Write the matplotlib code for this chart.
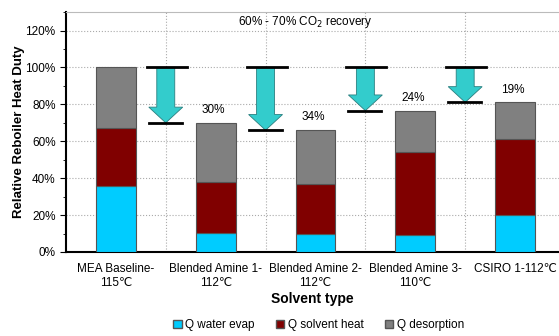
import numpy as np
import matplotlib
matplotlib.use('Agg')
import matplotlib.pyplot as plt
import matplotlib.patches as mpatches
from matplotlib.ticker import PercentFormatter, MultipleLocator

plt.rcParams['font.family'] = ['Liberation Sans', 'DejaVu Sans']

solvents = ['MEA Baseline-\n115℃', 'Blended Amine 1-\n112℃', 'Blended Amine 2-\n112℃',
            'Blended Amine 3-\n110℃', 'CSIRO 1-112℃']
q_water = [0.355, 0.103, 0.100, 0.093, 0.203]
q_solvent = [0.315, 0.277, 0.270, 0.450, 0.411]
q_desorption = [0.330, 0.320, 0.293, 0.223, 0.197]
reduction_labels = ['', '30%', '34%', '24%', '19%']
# arrows sit between the bars, from 100% down to the next solvent's total
arrow_x = [0.5, 1.5, 2.5, 3.5]
arrow_low = [0.70, 0.66, 0.766, 0.811]

c_water = '#00CCFF'
c_solvent = '#800000'
c_desorp = '#808080'

fig = plt.figure(figsize=(5.59, 3.36), dpi=100)
ax = fig.add_axes([0.118, 0.25, 0.882, 0.714])

x = np.arange(len(solvents))
w = 0.4
water = np.array(q_water)
solvent = np.array(q_solvent)
desorp = np.array(q_desorption)
total = water + solvent + desorp

ax.bar(x, water, w, color=c_water, edgecolor='#555555', linewidth=0.8, zorder=3)
ax.bar(x, solvent, w, bottom=water, color=c_solvent, edgecolor='#555555', linewidth=0.8, zorder=3)
ax.bar(x, desorp, w, bottom=water + solvent, color=c_desorp, edgecolor='#555555', linewidth=0.8, zorder=3)

for i, lab in enumerate(reduction_labels):
    if lab:
        ax.text(x[i] - 0.02, total[i] + 0.035, lab, ha='center', va='bottom', fontsize=8.5)

for xa, low in zip(arrow_x, arrow_low):
    arr = mpatches.FancyArrow(xa, 1.0, 0, -(1.0 - low), width=0.18, head_width=0.34,
                              head_length=0.085, length_includes_head=True,
                              facecolor='#33CCCC', edgecolor='#2a7f7f', linewidth=0.6, zorder=4)
    ax.add_patch(arr)
    ax.plot([xa - 0.19, xa + 0.21], [1.0, 1.0], color='black', lw=2, zorder=5)
    ax.plot([xa - 0.17, xa + 0.16], [low, low], color='black', lw=2, zorder=5)

ax.text(1.9, 1.245, '60% - 70% CO$_2$ recovery', ha='center', va='center', fontsize=8.5)

ax.set_xlim(-0.5, 4.44)
ax.set_ylim(0, 1.3)
ax.yaxis.set_minor_locator(MultipleLocator(0.1))
ax.yaxis.set_major_formatter(PercentFormatter(1.0, decimals=0))
ax.set_yticks([0, 0.2, 0.4, 0.6, 0.8, 1.0, 1.2])
ax.set_xticks(x)
ax.set_xticklabels(solvents, fontsize=8.5)
ax.set_xticks(np.arange(0.5, 4.5, 1), minor=True)
ax.tick_params(axis='x', which='both', length=0, pad=8)
ax.tick_params(axis='y', which='major', labelsize=8.5, length=4, direction='out')
ax.tick_params(axis='y', which='minor', length=2)
ax.grid(axis='y', which='major', color='#aaaaaa', linestyle=':', linewidth=0.8, zorder=0)
ax.grid(axis='x', which='minor', color='#aaaaaa', linestyle=':', linewidth=0.8, zorder=0)

ax.spines['left'].set_linewidth(1.5)
ax.spines['bottom'].set_linewidth(1.5)
ax.spines['top'].set_color('#bbbbbb')
ax.spines['right'].set_visible(False)

ax.set_ylabel('Relative Reboiler Heat Duty', fontsize=9.5, fontweight='bold', labelpad=0)
ax.set_xlabel('Solvent type', fontsize=10, fontweight='bold', labelpad=2)

handles = [mpatches.Patch(facecolor=c_water, edgecolor='#555555', label='Q water evap'),
           mpatches.Patch(facecolor=c_solvent, edgecolor='#555555', label='Q solvent heat'),
           mpatches.Patch(facecolor=c_desorp, edgecolor='#555555', label='Q desorption')]
fig.legend(handles=handles, loc='center', bbox_to_anchor=(0.57, 0.032), ncol=3, frameon=False,
           fontsize=8.5, handlelength=0.7, handleheight=0.7, handletextpad=0.3, columnspacing=1.8)

fig.savefig('out.png', dpi=100)
